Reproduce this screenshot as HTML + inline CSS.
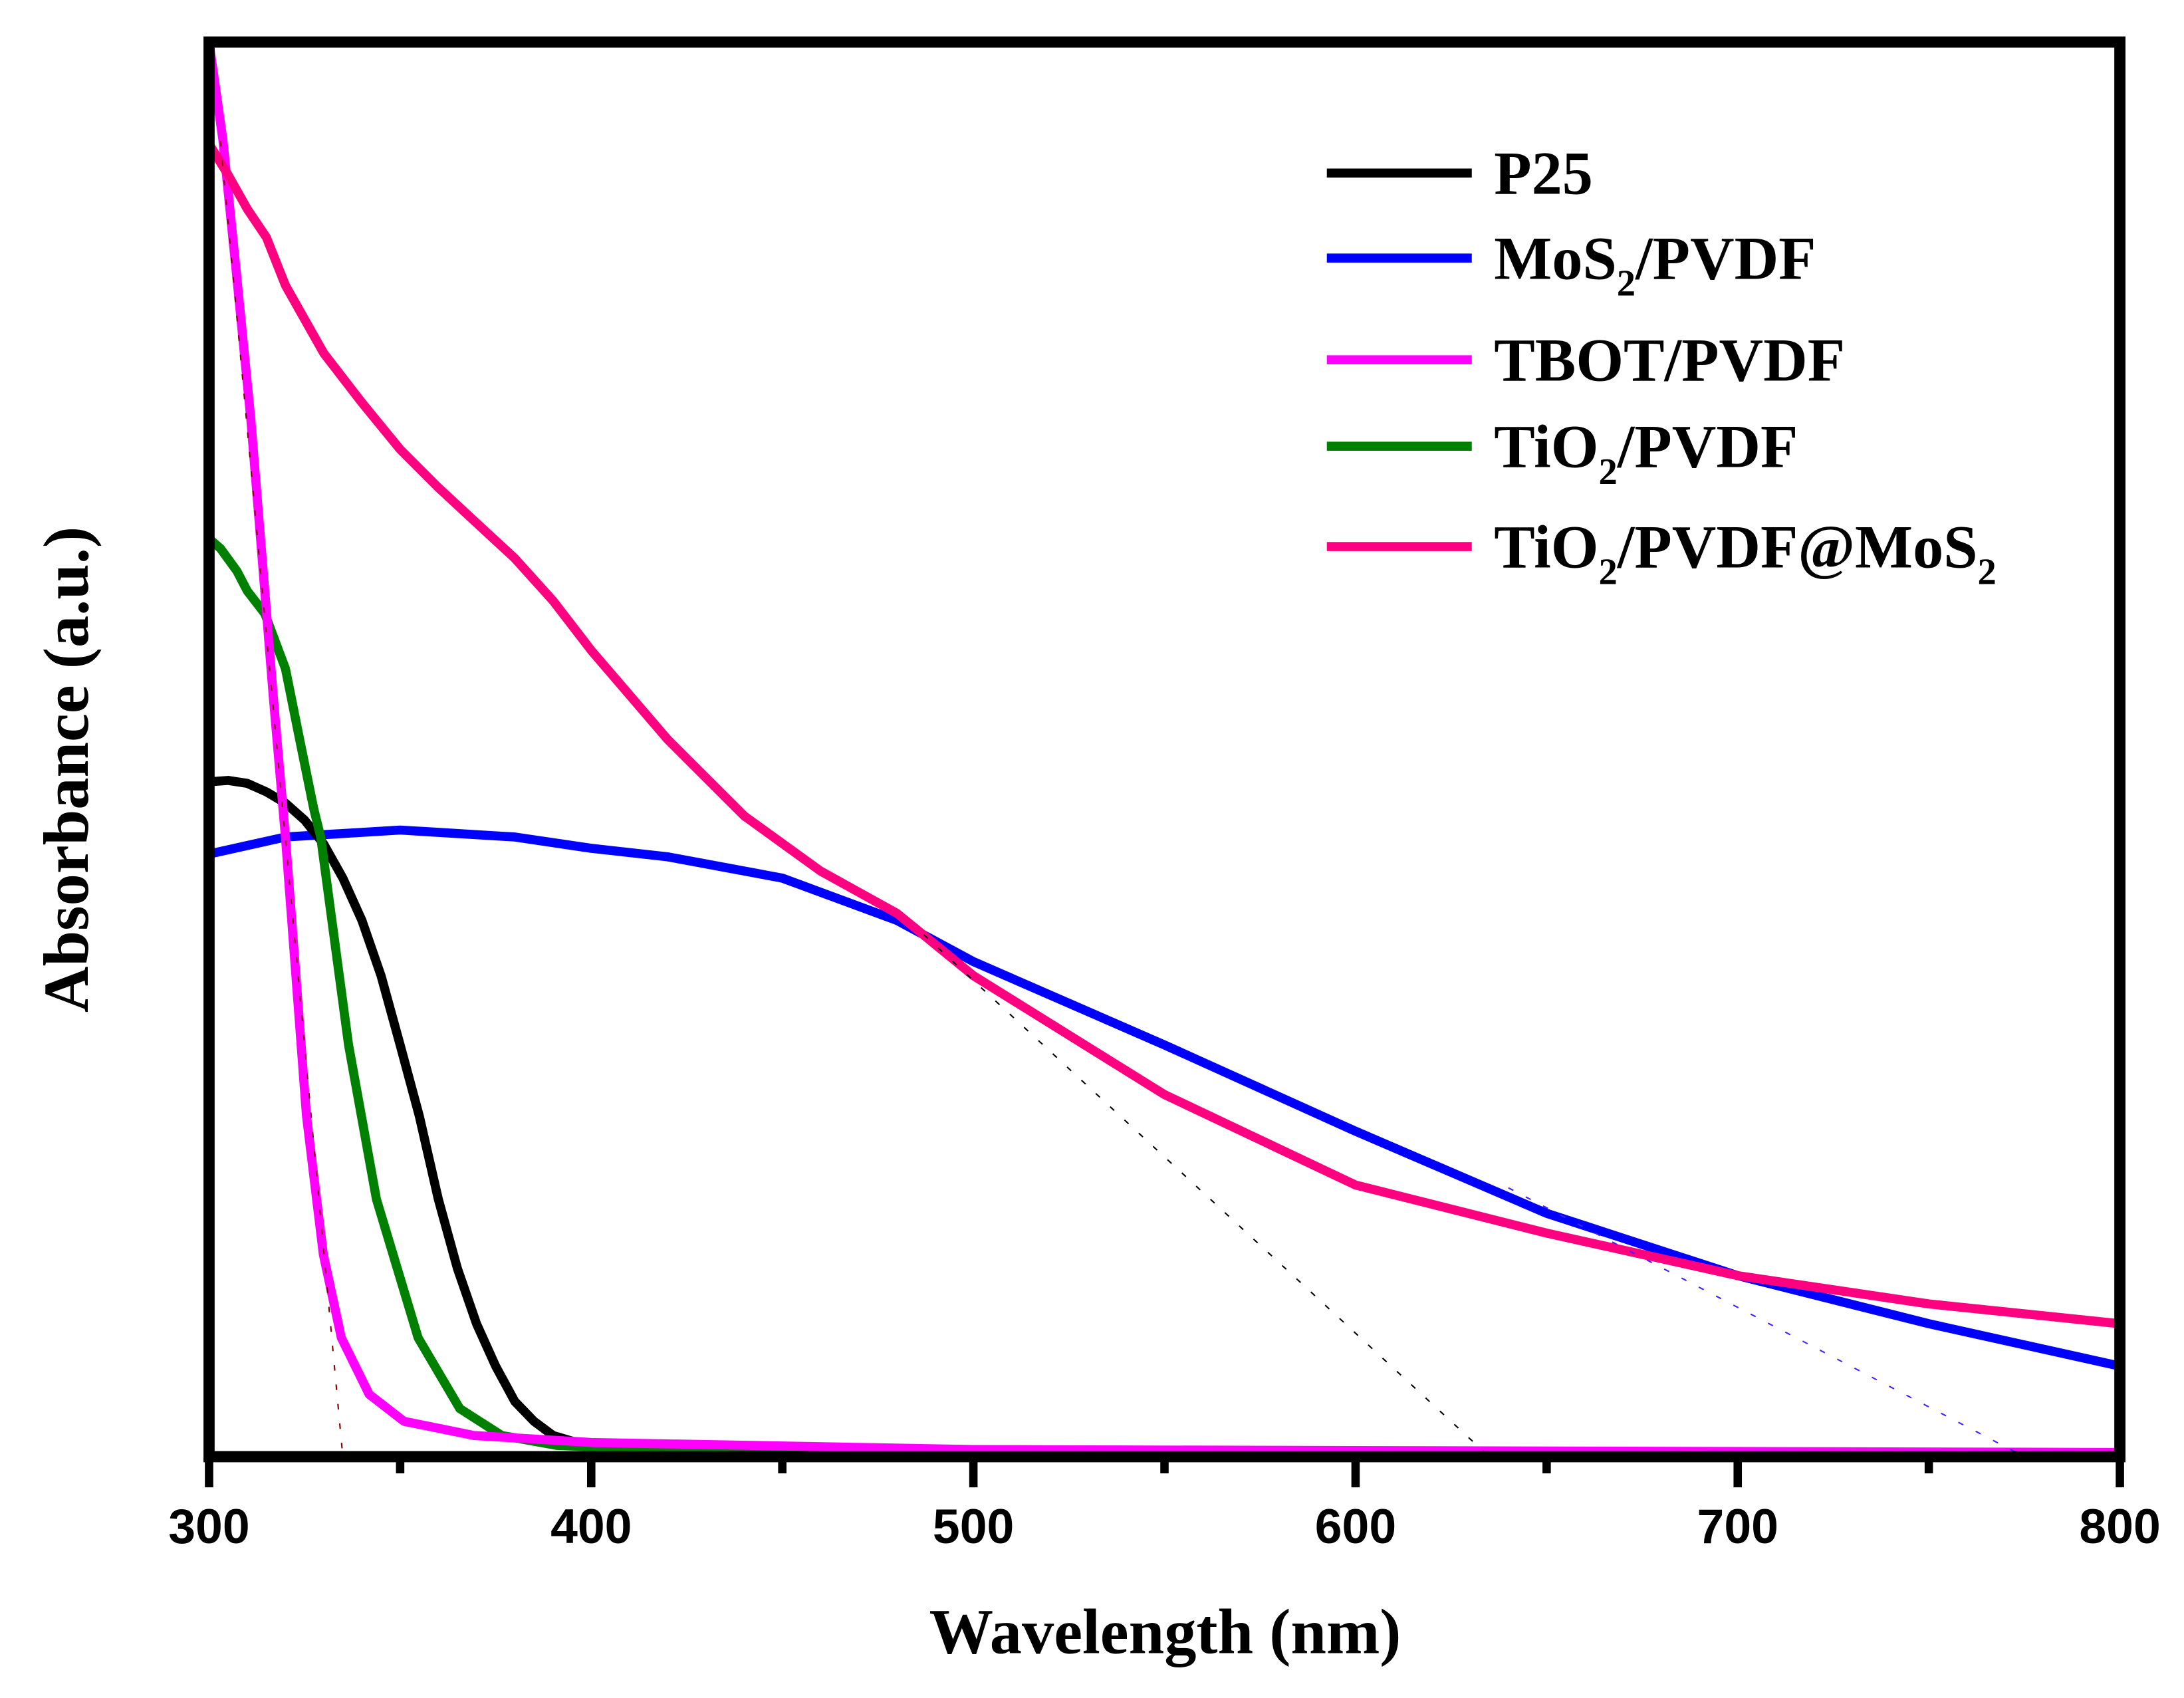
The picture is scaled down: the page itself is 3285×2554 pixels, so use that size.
<!DOCTYPE html>
<html><head><meta charset="utf-8"><style>
html,body{margin:0;padding:0;background:#fff;}
svg{display:block;}
.serif{font-family:"Liberation Serif",serif;font-weight:bold;}
.sans{font-family:"Liberation Sans",sans-serif;font-weight:bold;}
</style></head><body>
<svg id="chart" width="3285" height="2554" viewBox="0 0 1567 1218" xmlns="http://www.w3.org/2000/svg">
<g id="series"></g>
<g id="tangents"></g>
<g id="axes"></g>
<g id="legend"></g>
</svg>
<script>
const xTicks = [300, 400, 500, 600, 700, 800];
const xMinor = [350, 450, 550, 650, 750];
const seriesNames = ["P25", "MoS2/PVDF", "TBOT/PVDF", "TiO2/PVDF", "TiO2/PVDF@MoS2"];
const seriesColors = ["#000000", "#0000ff", "#ff00ff", "#008000", "#ff0080"];
const p25X = [300,305,310,315,320,325,330,335,340,345,350,355,360,365,370,375,380,385,390,400,450,800];
const p25Y = [0.477,0.478,0.476,0.470,0.462,0.450,0.433,0.409,0.379,0.340,0.291,0.241,0.182,0.133,0.094,0.064,0.039,0.025,0.015,0.007,0.002,0.0];
const mosX = [300,320,350,380,400,420,450,480,500,550,600,650,700,750,800];
const mosY = [0.426,0.438,0.443,0.438,0.430,0.424,0.409,0.379,0.350,0.291,0.230,0.172,0.128,0.094,0.064];
const tbotX = [300,303.6,307.3,310.9,313.9,316.8,320,325.5,329.9,334.6,341.9,351,369.3,400,500,800];
const tbotY = [1.0,0.931,0.833,0.734,0.635,0.537,0.438,0.241,0.143,0.084,0.044,0.025,0.015,0.010,0.005,0.003];
const tioX = [300,303,307.3,310,314.6,320,323.7,327.4,329.2,336.5,343.8,354.7,365.6,376.6,391,400,500,800];
const tioY = [0.649,0.642,0.626,0.612,0.596,0.557,0.507,0.458,0.438,0.291,0.182,0.084,0.034,0.015,0.008,0.007,0.005,0.002];
const compX = [300,305,310,315,320,330,340,350,360,370,380,390,400,420,440,460,480,500,550,600,650,700,750,800];
const compY = [0.928,0.906,0.882,0.862,0.828,0.780,0.745,0.712,0.685,0.660,0.635,0.605,0.570,0.507,0.453,0.414,0.384,0.340,0.256,0.192,0.158,0.128,0.108,0.094];
const tangentX1 = [303, 352, 487, 640];
const tangentY1 = [0.93, 0.0, 0.369, 0.19];
const tangentX2 = [335, 372, 635, 775];
const tangentY2 = [0.0, 0.0, 0.0, 0.0];
const tangentColors = ["#800000","#008080","#000000","#4020ff"];
</script>
<script>
const NS = "http://www.w3.org/2000/svg";
const L = 150, R = 1521, T = 30, B = 1045;
function xs(v){ return L + (v - 300) / 500 * (R - L); }
function ys(v){ return B - v * (B - T); }
function mk(tag, attrs, parent){ const e = document.createElementNS(NS, tag); for (const k in attrs) e.setAttribute(k, attrs[k]); parent.appendChild(e); return e; }
const sg = document.getElementById('series');
const allX = [p25X, mosX, tbotX, tioX, compX];
const allY = [p25Y, mosY, tbotY, tioY, compY];
const order = [1, 0, 3, 2, 4];
order.forEach(i => {
  const d = allX[i].map((x, j) => (j ? 'L' : 'M') + xs(x).toFixed(1) + ',' + ys(allY[i][j]).toFixed(1)).join(' ');
  const p = mk('path', {d: d, fill: 'none', stroke: seriesColors[i], 'stroke-width': 6.5, 'stroke-linejoin': 'round'}, sg);
  
  
});
const tg = document.getElementById('tangents');
tangentX1.forEach((x, i) => {
  const l = mk('line', {x1: xs(x), y1: ys(tangentY1[i]), x2: xs(tangentX2[i]), y2: ys(tangentY2[i]), stroke: tangentColors[i], 'stroke-width': 1, 'stroke-dasharray': '4 10'}, tg);
  
  
});
const ax = document.getElementById('axes');
const frame = mk('rect', {x: L, y: T, width: R - L, height: B - T, fill: 'none', stroke: '#000', 'stroke-width': 8}, ax);


xTicks.forEach(v => {
  const t = mk('line', {x1: xs(v), y1: B, x2: xs(v), y2: B + 22, stroke: '#000', 'stroke-width': 6}, ax);
  
  
  const lb = mk('text', {x: xs(v), y: 1107, 'text-anchor': 'middle', 'font-size': 35, 'class': 'sans'}, ax);
  lb.textContent = v;
  
  
});
xMinor.forEach(v => {
  const t = mk('line', {x1: xs(v), y1: B, x2: xs(v), y2: B + 12, stroke: '#000', 'stroke-width': 6}, ax);
  
  
});
const xt = mk('text', {x: 836, y: 1186, 'text-anchor': 'middle', 'font-size': 46, 'class': 'serif'}, ax);
xt.textContent = 'Wavelength (nm)';


const yt = mk('text', {x: 0, y: 0, 'text-anchor': 'middle', 'font-size': 46, 'class': 'serif', transform: 'translate(63,552) rotate(-90)'}, ax);
yt.textContent = 'Absorbance (a.u.)';


const lg = document.getElementById('legend');
const legY = [124, 185, 258, 320, 392];
const legHtml = ['P25', 'MoS<tspan font-size="27" dy="12">2</tspan><tspan dy="-12">/PVDF</tspan>', 'TBOT/PVDF',
  'TiO<tspan font-size="27" dy="12">2</tspan><tspan dy="-12">/PVDF</tspan>',
  'TiO<tspan font-size="27" dy="12">2</tspan><tspan dy="-12">/PVDF@MoS</tspan><tspan font-size="27" dy="12">2</tspan>'];
seriesNames.forEach((n, i) => {
  const l = mk('line', {x1: 952, y1: legY[i], x2: 1056, y2: legY[i], stroke: seriesColors[i], 'stroke-width': 6.5}, lg);
  
  
  const t = mk('text', {x: 1072, y: legY[i] + 15, 'font-size': 44, 'class': 'serif'}, lg);
  t.innerHTML = legHtml[i];
  
  
});
</script>
</body></html>
